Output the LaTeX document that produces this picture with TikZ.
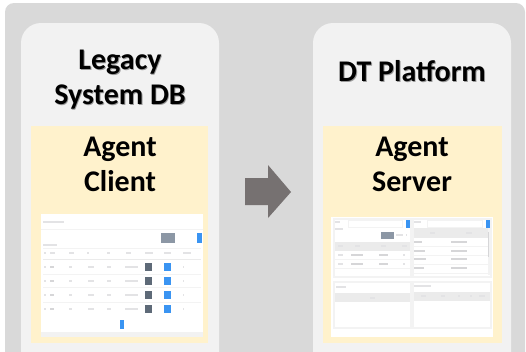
\documentclass[tikz,border=0pt]{standalone}
\usepackage{fontspec}
\setmainfont{Carlito}
\definecolor{outerg}{HTML}{D9D9D9}
\definecolor{cardg}{HTML}{F2F2F2}
\definecolor{yel}{HTML}{FFF2CC}
\definecolor{arrowg}{HTML}{767171}
\definecolor{blu}{HTML}{3A94F2}
\definecolor{slat}{HTML}{8C97A5}
\definecolor{dark}{HTML}{5E6A78}
\definecolor{hdr}{HTML}{EBEBEB}
\definecolor{ln}{HTML}{F3F3F3}
\definecolor{txt}{HTML}{E3E3E5}
\definecolor{txtb}{HTML}{D6D6D8}
\tikzset{
  card/.style={fill=cardg,rounded corners=20pt},
  title/.style={font=\fontsize{30}{35}\selectfont\bfseries,align=center,text=black,inner sep=0pt},
  shadowt/.style={title,text=black!40},
  agent/.style={font=\fontsize{30}{35}\selectfont\bfseries,align=center,text=black,inner sep=0pt},
}
% bars are given in the 3x zoom coordinates of a screenshot
\newcommand{\tb}[3]{\fill[txt] (#1,#2-2.6) rectangle (#3,#2+2.6);}
\newcommand{\tbd}[3]{\fill[txtb] (#1,#2-3) rectangle (#3,#2+3);}
\newcommand{\bx}[5]{\fill[#1] (#2,#3) rectangle (#4,#5);}
\newcommand{\hl}[3]{\fill[ln] (#1,#3-1) rectangle (#2,#3+1);}
\newcommand{\panel}[4]{\draw[ln,line width=2pt,fill=white] (#1,#2) rectangle (#3,#4);}
\begin{document}
\begin{tikzpicture}[x=1pt,y=-1pt]
\useasboundingbox (0,0) rectangle (526,351);
\clip (0,0) rectangle (526,351);
\fill[white] (0,0) rectangle (526,351);
\fill[outerg,rounded corners=9pt] (5,3) rectangle (525,380);
\fill[card] (21,23) rectangle (219,390);
\fill[card] (313,23) rectangle (511,390);
\fill[yel] (31,126) rectangle (208,343);
\fill[yel] (323,126) rectangle (502,343);
% titles
\node[shadowt] at (120.9,80.4) {Legacy\\[-0.2pt]System DB};
\node[shadowt] at (412.9,71.9) {DT Platform};
\node[title] (legacy) at (120,79.5) {Legacy\\[-0.2pt]System DB};
\node[title] (dtp) at (412,71) {DT Platform};
\node[agent] (client) at (120,164.5) {Agent\\[-0.2pt]Client};
\node[agent] (server) at (412,164.5) {Agent\\[-0.2pt]Server};
% arrow
\fill[arrowg] (245,178) -- (268,178) -- (268,165) -- (291,192) -- (268,218) -- (268,205) -- (245,205) -- cycle;
% left screenshot
\begin{scope}[shift={(30,205)},x=0.3333pt,y=-0.3333pt]
\bx{white}{33}{28}{518}{395}
\tb{40}{51}{103}
\hl{33}{518}{73}
\bx{slat}{393}{85}{435}{115}
\bx{blu}{501}{85}{515}{115}
\tb{40}{121}{80}
\hl{38}{512}{130}
\foreach \a/\b in {43/48,60/75,117/133,172/178,230/240,287/302,345/368,402/422,458/484}{\tb{\a}{145}{\b}}
\fill[hdr] (38,162) rectangle (512,164);
\foreach \y in {185,228,270,312}{
  \tb{42}{\y}{47}\tbd{60}{\y}{71}\tb{117}{\y}{127}\tb{173}{\y}{191}\tb{231}{\y}{242}\tb{286}{\y}{323}\tb{458}{\y}{461}
  \bx{dark}{344}{\y-12}{367}{\y+12}
  \bx{blu}{401}{\y-12}{423}{\y+12}
}
\foreach \y in {207,248,291}{\hl{38}{512}{\y}}
\bx{blu}{270}{345}{281}{372}
\bx{cardg}{33}{382}{518}{395}
\end{scope}
% right screenshot
\begin{scope}[shift={(320,205)},x=0.3333pt,y=-0.3333pt]
\bx{white}{33}{35}{518}{395}
\panel{41}{42}{272}{215}
\panel{280}{42}{512}{215}
\panel{41}{231}{272}{370}
\panel{280}{231}{512}{370}
% panel A
\tb{45}{51}{60}
\draw[ln,line width=1pt] (85,45) rectangle (248,68);
\bx{blu}{257}{45}{271}{68}
\tb{45}{72}{68}
\bx{slat}{183}{80}{223}{102}
\tb{228}{91}{248}
\tb{258}{91}{262}
\bx{hdr}{45}{110}{270}{138}
\foreach \a/\b in {54/70,104/120,182/198,246/260}{\tb{\a}{124}{\b}}
\foreach \y in {150,177}{\tb{55}{\y}{68}\tbd{93}{\y}{130}\tbd{178}{\y}{205}\tb{250}{\y}{254}}
\hl{45}{270}{163}\hl{45}{270}{190}
% panel B
\tb{283}{51}{303}
\draw[ln,line width=1pt] (322,45) rectangle (487,68);
\bx{blu}{498}{45}{510}{68}
\bx{hdr}{283}{70}{503}{98}
\foreach \a/\b in {330/346,438/456}{\tb{\a}{84}{\b}}
\foreach \y/\w in {110/24,137/32,163/36,190/28}{\tbd{283}{\y}{283+\w}\tbd{393}{\y}{442}}
\hl{283}{503}{124}\hl{283}{503}{151}\hl{283}{503}{177}\hl{283}{503}{205}
\bx{ln}{503}{70}{510}{210}
\bx{txtb}{504}{80}{508}{155}
% panel C
\tb{48}{247}{78}
\bx{hdr}{45}{265}{270}{292}
\tb{150}{278}{164}
% panel D
\tb{283}{243}{333}
\bx{hdr}{283}{262}{510}{288}
\foreach \a/\b in {303/318,362/374,415/421,450/456,478/496}{\tb{\a}{274}{\b}}
\end{scope}
\end{tikzpicture}
\end{document}
